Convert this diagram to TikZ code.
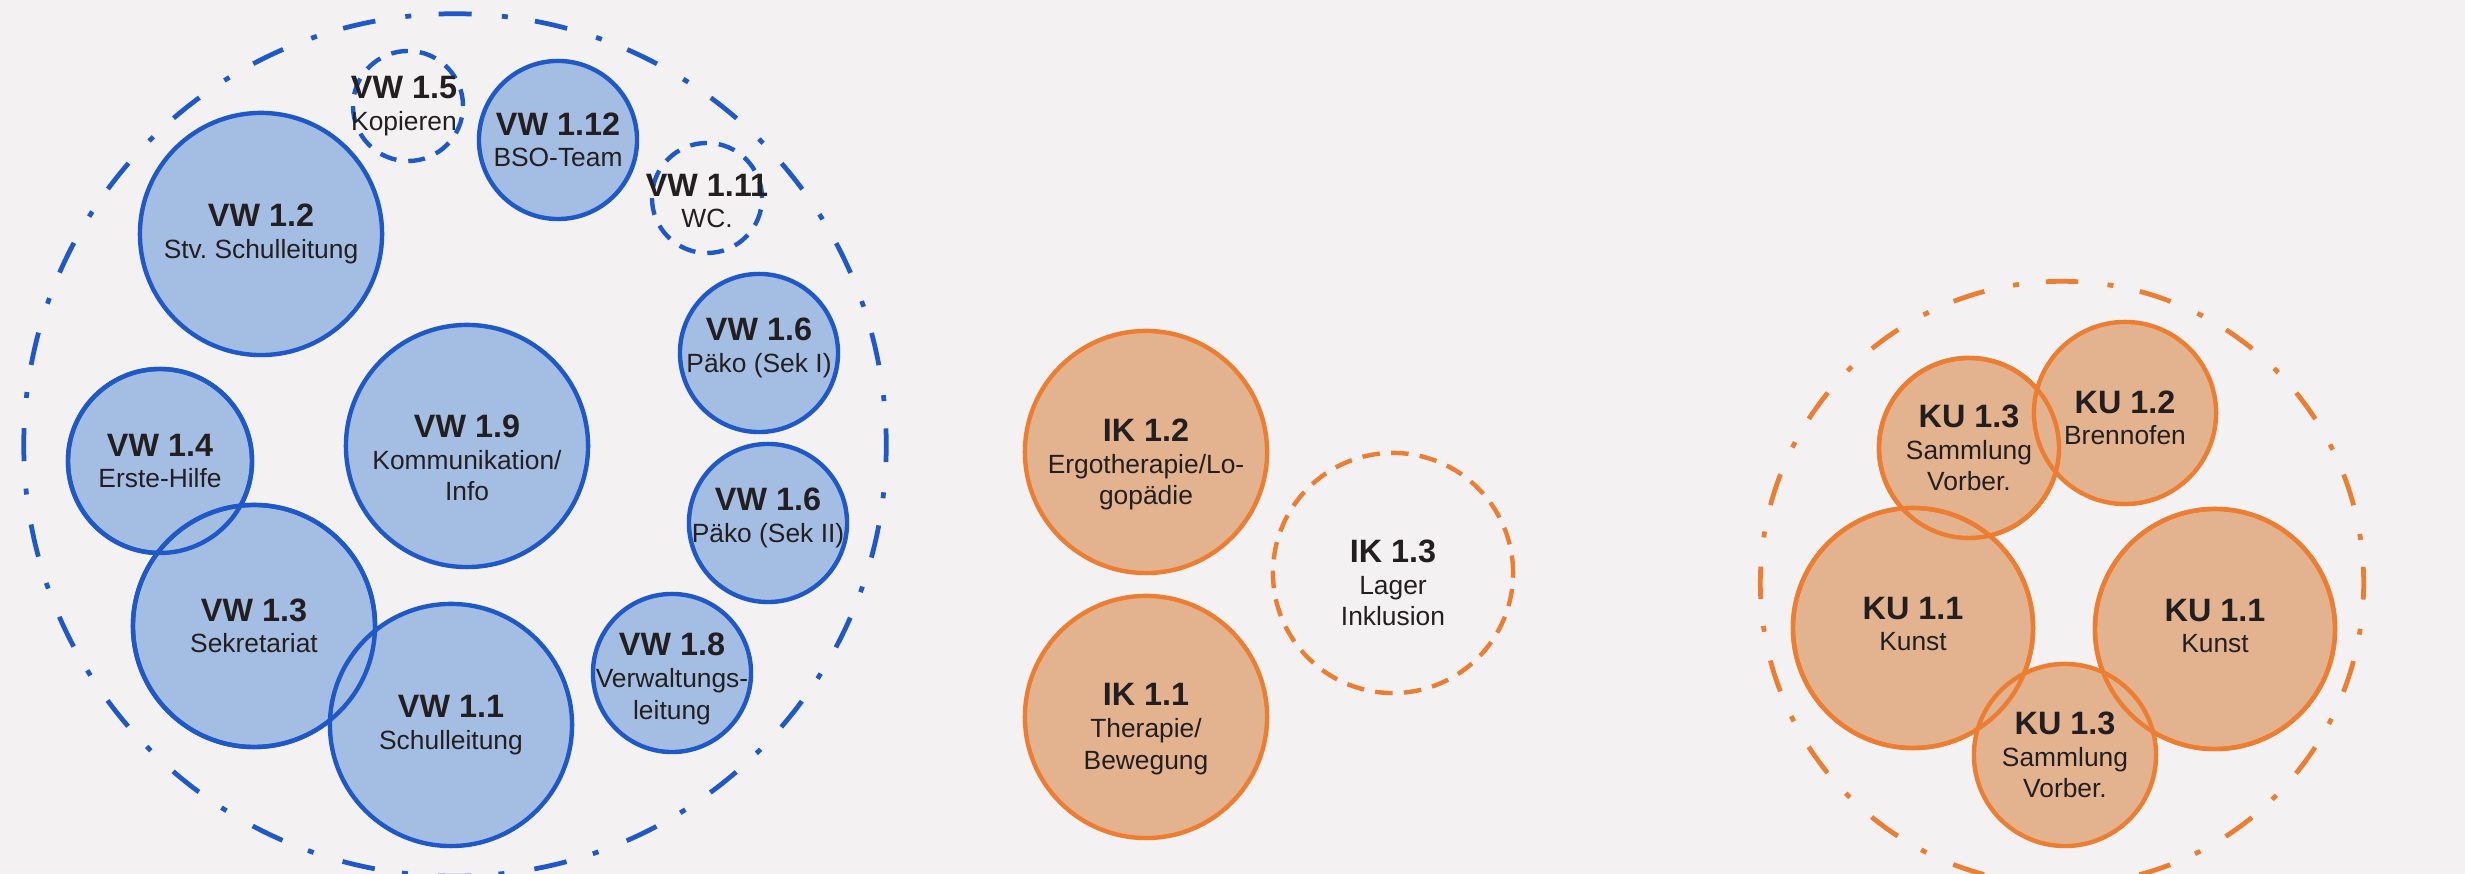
\documentclass[tikz,border=0pt]{standalone}
\usepackage{fontspec}
\setmainfont{Liberation Sans}
\usetikzlibrary{positioning}
\definecolor{pagebg}{RGB}{243,241,242}
\definecolor{vwblue}{RGB}{31,88,200}
\definecolor{vwfill}{RGB}{164,190,227}
\definecolor{ikorange}{RGB}{237,125,49}
\definecolor{ikfill}{RGB}{227,179,143}
\definecolor{txtdark}{RGB}{35,31,32}
\newcommand{\roomno}[1]{{\fontsize{9.2pt}{9pt}\selectfont\bfseries #1}}

\begin{document}
\begin{tikzpicture}[x=0.01cm,y=-0.01cm,
  lbl/.style={font=\fontsize{7.5pt}{9pt}\selectfont\frenchspacing,align=center,text=txtdark,inner sep=0pt},
  vwroom/.style={circle,draw=vwblue,fill=vwfill,line width=1.25pt,inner sep=0pt,minimum size=#1},
  vwopen/.style={circle,draw=vwblue,line width=1.25pt,dash pattern=on 4.8pt off 3.4pt,inner sep=0pt,minimum size=#1},
  ikroom/.style={circle,draw=ikorange,fill=ikfill,line width=1.25pt,inner sep=0pt,minimum size=#1},
  ikopen/.style={circle,draw=ikorange,line width=1.25pt,dash pattern=on 5pt off 3.2pt,inner sep=0pt,minimum size=#1}]
\fill[pagebg] (0,0) rectangle (2465,874);
\useasboundingbox (0,0) rectangle (2465,874);

% Verwaltung
\node[circle,draw=vwblue,line width=1.35pt,inner sep=0pt,minimum size=8.62cm,
  dash pattern=on 9.4pt off 7.8pt on 1.7pt off 8.616pt,dash phase=4.7pt] (vwzone) at (455,445) {};
\node[vwopen=1.1cm] (kopieren) at (408,106) {};
\node[vwroom=1.58cm] (bso) at (558,140) {};
\node[vwopen=1.1cm] (wc) at (707,198) {};
\node[vwroom=2.42cm] (stv) at (261,234) {};
\node[vwroom=1.58cm] (paekoI) at (759,353) {};
\node[vwroom=1.58cm] (paekoII) at (768,523) {};
\node[vwroom=1.58cm] (verw) at (672,673) {};
\node[vwroom=2.42cm] (komm) at (467,446) {};
\node[vwroom=1.84cm] (hilfe) at (160,461) {};
\node[vwroom=2.42cm] (sekr) at (254,626) {};
\node[vwroom=2.42cm] (sl) at (451,725) {};
\foreach \n/\r in {hilfe/92,sekr/121}
  \draw[vwblue,line width=1.25pt] (\n) circle (\r);

% Inklusion
\node[ikroom=2.42cm] (ergo) at (1146,452) {};
\node[ikroom=2.42cm] (thera) at (1146,717) {};
\node[ikopen=2.4cm] (lager) at (1393,573) {};

% Kunst
\node[circle,draw=ikorange,line width=1.35pt,inner sep=0pt,minimum size=6.03cm,
  dash pattern=on 9.2pt off 7.7pt on 1.7pt off 8.348pt,dash phase=4.6pt] (kuzone) at (2062,583) {};
\node[ikroom=1.8cm] (sammlO) at (1969,448) {};
\node[ikroom=1.82cm] (brenn) at (2125,413) {};
\node[ikroom=2.4cm] (kunstL) at (1913,628) {};
\node[ikroom=2.4cm] (kunstR) at (2215,629) {};
\node[ikroom=1.82cm] (sammlU) at (2065,755) {};
\foreach \n/\r in {sammlO/90,kunstL/120,kunstR/120}
  \draw[ikorange,line width=1.25pt] (\n) circle (\r);

% labels
\node[lbl] at ([xshift=-0.04cm]kopieren) {\roomno{VW 1.5}\\Kopieren};
\node[lbl] at (bso) {\roomno{VW 1.12}\\BSO-Team};
\node[lbl] at ([yshift=-0.03cm]wc) {\roomno{VW 1.11}\\WC.};
\node[lbl] at (stv) {\roomno{VW 1.2}\\Stv.\ Schulleitung};
\node[lbl] at ([yshift=0.05cm]paekoI) {\roomno{VW 1.6}\\Päko (Sek I)};
\node[lbl] at ([yshift=0.05cm]paekoII) {\roomno{VW 1.6}\\Päko (Sek II)};
\node[lbl] at ([yshift=-0.06cm]verw) {\roomno{VW 1.8}\\Verwaltungs-\\leitung};
\node[lbl] at ([yshift=-0.12cm]komm) {\roomno{VW 1.9}\\Kommunikation/\\Info};
\node[lbl] at (hilfe) {\roomno{VW 1.4}\\Erste-Hilfe};
\node[lbl] at (sekr) {\roomno{VW 1.3}\\Sekretariat};
\node[lbl] at (sl) {\roomno{VW 1.1}\\Schulleitung};
\node[lbl] at ([yshift=-0.125cm]ergo) {\roomno{IK 1.2}\\Ergotherapie/Lo-\\gopädie};
\node[lbl] at ([yshift=-0.12cm]thera) {\roomno{IK 1.1}\\Therapie/\\Bewegung};
\node[lbl] at ([yshift=-0.1cm]lager) {\roomno{IK 1.3}\\Lager\\Inklusion};
\node[lbl] at (sammlO) {\roomno{KU 1.3}\\Sammlung\\Vorber.};
\node[lbl] at ([yshift=-0.05cm]brenn) {\roomno{KU 1.2}\\Brennofen};
\node[lbl] at ([yshift=0.04cm]kunstL) {\roomno{KU 1.1}\\Kunst};
\node[lbl] at ([yshift=0.03cm]kunstR) {\roomno{KU 1.1}\\Kunst};
\node[lbl] at (sammlU) {\roomno{KU 1.3}\\Sammlung\\Vorber.};
\end{tikzpicture}
\end{document}
